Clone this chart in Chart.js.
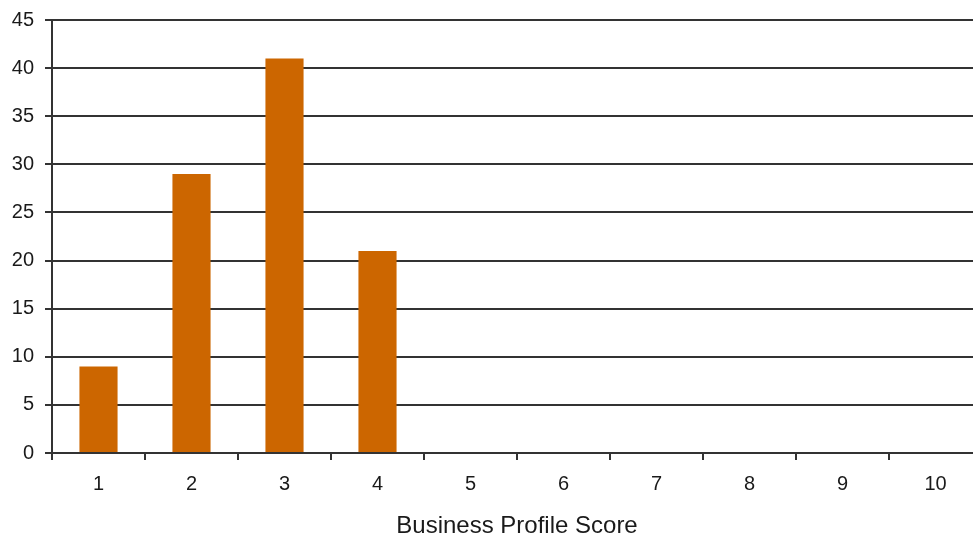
<!DOCTYPE html>
<html>
<head>
<meta charset="utf-8">
<script src="https://cdn.jsdelivr.net/npm/chart.js@4.4.0/dist/chart.umd.min.js"></script>
<style>
  html, body { margin: 0; padding: 0; background: #fff; overflow: hidden; }
  #wrap { width: 990px; height: 541px; }
</style>
</head>
<body>
<div id="wrap"><canvas id="chartCanvas" width="990" height="541"></canvas></div>
<script>
const categorias = ['1', '2', '3', '4', '5', '6', '7', '8', '9', '10'];
const valores = [9, 29, 41, 21, 0, 0, 0, 0, 0, 0];
const ejeX = 'Business Profile Score';

const colorBarra = '#CC6600';
const colorLinea = '#333333';
const colorTexto = '#1a1a1a';

const chartCanvas = document.getElementById('chartCanvas');

new Chart(chartCanvas, {
  type: 'bar',
  data: {
    labels: categorias,
    datasets: [{
      data: valores,
      backgroundColor: colorBarra,
      borderWidth: 0,
      barPercentage: 0.41,
      categoryPercentage: 1
    }]
  },
  options: {
    responsive: false,
    animation: false,
    layout: { padding: { top: 20, right: 8, left: 0, bottom: 0 } },
    plugins: {
      legend: { display: false },
      tooltip: { enabled: false }
    },
    scales: {
      x: {
        offset: true,
        grid: {
          offset: true,
          drawOnChartArea: false,
          tickLength: 7,
          color: colorLinea,
          lineWidth: 2
        },
        border: { color: colorLinea, width: 2 },
        ticks: {
          color: colorTexto,
          padding: 12,
          font: { family: 'Liberation Sans, Arial', size: 20 }
        },
        title: {
          display: true,
          text: ejeX,
          color: colorTexto,
          padding: 0,
          font: { family: 'Liberation Sans, Arial', size: 24 }
        },
        afterFit: (scale) => { scale.height = 88; }
      },
      y: {
        min: 0,
        max: 45,
        ticks: {
          stepSize: 5,
          color: colorTexto,
          padding: 11,
          font: { family: 'Liberation Sans, Arial', size: 20 }
        },
        grid: {
          color: colorLinea,
          lineWidth: 2,
          tickLength: 7
        },
        border: { color: colorLinea, width: 2 },
        afterFit: (scale) => {
          scale.width = 52;
          scale.paddingTop = 0;
          scale.paddingBottom = 0;
        }
      }
    }
  }
});
</script>
</body>
</html>
